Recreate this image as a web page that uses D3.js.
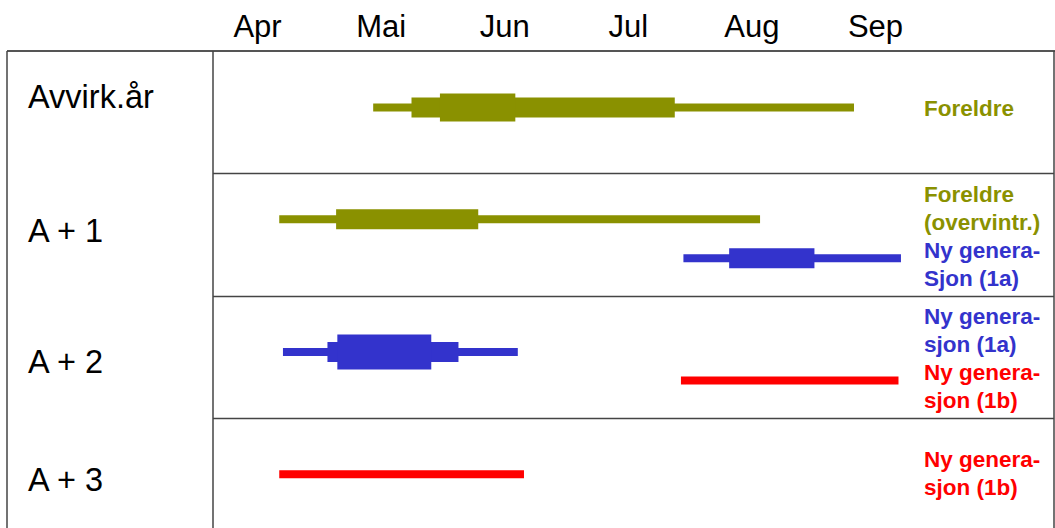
<!DOCTYPE html>
<html>
<head>
<meta charset="utf-8">
<script src="https://cdn.jsdelivr.net/npm/d3@7"></script>
<style>
  html, body { margin: 0; padding: 0; background: #fff; }
  svg { display: block; }
  text { font-family: "Liberation Sans", Arial, sans-serif; }
</style>
</head>
<body>
<svg id="chart" width="1055" height="528"></svg>
<script>
// ---------- DATA ----------
const months = ["Apr", "Mai", "Jun", "Jul", "Aug", "Sep"];
const monthNumbers = [4, 5, 6, 7, 8, 9];
const rowLabels = ["Avvirk.år", "A + 1", "A + 2", "A + 3"];

// each bar: row index, lane (0 = upper, 1 = middle, 2 = lower), colour key
const barRow   = [0, 1, 1, 2, 2, 3];
const barLane  = [1, 0, 2, 1, 2, 1];
const barGroup = ["foreldre", "foreldre", "ny1a", "ny1a", "ny1b", "ny1b"];
// segments per bar: [start month, end month, intensity level]
const barSegments = [
  [[5.44, 9.33, 1], [5.75, 7.88, 2], [5.98, 6.59, 3]],
  [[4.68, 8.57, 1], [5.14, 6.29, 2]],
  [[7.95, 9.71, 1], [8.32, 9.01, 2]],
  [[4.71, 6.61, 1], [5.07, 6.13, 2], [5.15, 5.91, 4]],
  [[7.93, 9.69, 1]],
  [[4.68, 6.66, 1]]
];

// legend text lines per row
const rowNotes = [
  [["Foreldre", "foreldre"]],
  [["Foreldre", "foreldre"], ["(overvintr.)", "foreldre"], ["Ny genera-", "ny1a"], ["Sjon (1a)", "ny1a"]],
  [["Ny genera-", "ny1a"], ["sjon (1a)", "ny1a"], ["Ny genera-", "ny1b"], ["sjon (1b)", "ny1b"]],
  [["Ny genera-", "ny1b"], ["sjon (1b)", "ny1b"]]
];

// ---------- STYLE / LAYOUT ----------
const colors = { foreldre: "#8a9100", ny1a: "#3333cc", ny1b: "#ff0000" };
const levelHeight = { 1: 8, 2: 20, 3: 28, 4: 35 };
const laneOffset = [46, 56.5, 85];          // px from row top
const noteFirstBaseline = [65, 29, 28, 49]; // px from row top
const noteStep = 28;

const svg = d3.select("#chart");

const x = d3.scaleLinear().domain([4, 10]).range([195.2, 936.8]);
const y = d3.scaleBand().domain(d3.range(rowLabels.length)).range([51, 540]).paddingInner(0).paddingOuter(0);

const tableLeft = 7, tableDiv = 213, tableRight = 1054, tableTop = 51;
const lineColor = "#444";

// month axis (top)
const axis = d3.axisTop(x)
  .tickValues(monthNumbers.map(m => m + 0.5))
  .tickFormat((d, i) => months[i])
  .tickSize(0);
const gAxis = svg.append("g").attr("transform", "translate(0,37)").call(axis);
gAxis.select(".domain").remove();
gAxis.selectAll("text")
  .attr("dy", 0)
  .attr("y", 0)
  .attr("fill", "#000")
  .style("font-size", "31px")
  .style("font-family", "'Liberation Sans', Arial, sans-serif");

// table lines
svg.append("line").attr("x1", tableLeft).attr("x2", 1055).attr("y1", tableTop).attr("y2", tableTop)
  .attr("stroke", "#555").attr("stroke-width", 2);
svg.append("line").attr("x1", tableLeft).attr("x2", tableLeft).attr("y1", tableTop).attr("y2", 528)
  .attr("stroke", lineColor).attr("stroke-width", 1.5);
svg.append("line").attr("x1", tableDiv).attr("x2", tableDiv).attr("y1", tableTop).attr("y2", 528)
  .attr("stroke", lineColor).attr("stroke-width", 1.5);
svg.append("line").attr("x1", tableRight).attr("x2", tableRight).attr("y1", tableTop).attr("y2", 528)
  .attr("stroke", lineColor).attr("stroke-width", 1.5);
svg.selectAll("line.rowsep")
  .data(d3.range(1, rowLabels.length))
  .join("line")
  .attr("class", "rowsep")
  .attr("x1", tableDiv).attr("x2", tableRight)
  .attr("y1", d => Math.round(y(d)) + 0.5).attr("y2", d => Math.round(y(d)) + 0.5)
  .attr("stroke", lineColor).attr("stroke-width", 1.5);

// row labels
const labelBaseline = [57, 69, 77, 73];
svg.selectAll("text.rowlabel")
  .data(rowLabels)
  .join("text")
  .attr("class", "rowlabel")
  .attr("x", 28)
  .attr("y", (d, i) => y(i) + labelBaseline[i])
  .attr("fill", "#000")
  .style("font-size", "32.5px")
  .text(d => d);

// bars
barSegments.forEach((segs, b) => {
  const cy = y(barRow[b]) + laneOffset[barLane[b]];
  svg.append("g")
    .selectAll("rect")
    .data(segs)
    .join("rect")
    .attr("x", d => x(d[0]))
    .attr("width", d => x(d[1]) - x(d[0]))
    .attr("y", d => cy - levelHeight[d[2]] / 2)
    .attr("height", d => levelHeight[d[2]])
    .attr("fill", colors[barGroup[b]]);
});

// legend notes
rowNotes.forEach((lines, r) => {
  svg.append("g")
    .selectAll("text")
    .data(lines)
    .join("text")
    .attr("x", 924)
    .attr("y", (d, i) => y(r) + noteFirstBaseline[r] + i * noteStep)
    .attr("fill", d => colors[d[1]])
    .style("font-size", "22.5px")
    .style("font-weight", "bold")
    .text(d => d[0]);
});
</script>
</body>
</html>
